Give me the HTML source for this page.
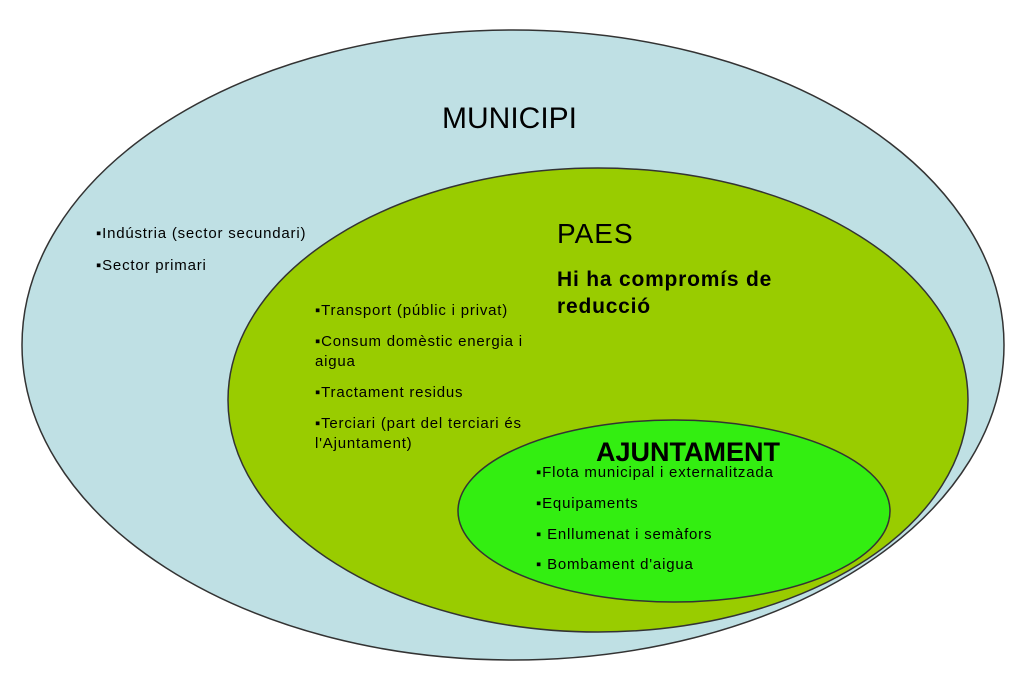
<!DOCTYPE html>
<html><head><meta charset="utf-8"><style>
html,body{margin:0;padding:0;background:#fff;}
svg text{font-family:"Liberation Sans",Arial,sans-serif;fill:#000;}
</style></head><body>
<svg width="1024" height="671" viewBox="0 0 1024 671" xmlns="http://www.w3.org/2000/svg">
<ellipse cx="513" cy="345" rx="491" ry="315" fill="#bfe0e4" stroke="#333" stroke-width="1.5"/>
<ellipse cx="598" cy="400" rx="370" ry="232" fill="#99cc00" stroke="#333" stroke-width="1.5"/>
<ellipse cx="674" cy="511" rx="216" ry="91" fill="#33ee11" stroke="#333" stroke-width="1.5"/>
<text x="442" y="128" font-size="30">MUNICIPI</text>
<g font-size="15" letter-spacing="0.8">
<text x="96" y="238">▪Indústria (sector secundari)</text>
<text x="96" y="270">▪Sector primari</text>
<text x="315" y="315">▪Transport  (públic i privat)</text>
<text x="315" y="346">▪Consum domèstic energia i</text>
<text x="315" y="366">aigua</text>
<text x="315" y="397">▪Tractament residus</text>
<text x="315" y="428">▪Terciari (part del terciari és</text>
<text x="315" y="448">l'Ajuntament)</text>
<text x="536" y="477">▪Flota municipal i externalitzada</text>
<text x="536" y="508">▪Equipaments</text>
<text x="536" y="539">▪ Enllumenat i semàfors</text>
<text x="536" y="569">▪ Bombament d'aigua</text>
</g>
<text x="557" y="243" font-size="28" letter-spacing="1">PAES</text>
<text x="557" y="286" font-size="21" font-weight="bold" letter-spacing="0.8">Hi ha compromís de</text>
<text x="557" y="313" font-size="21" font-weight="bold" letter-spacing="0.8">reducció</text>
<text x="596" y="461" font-size="27" font-weight="bold">AJUNTAMENT</text>
</svg>
</body></html>
